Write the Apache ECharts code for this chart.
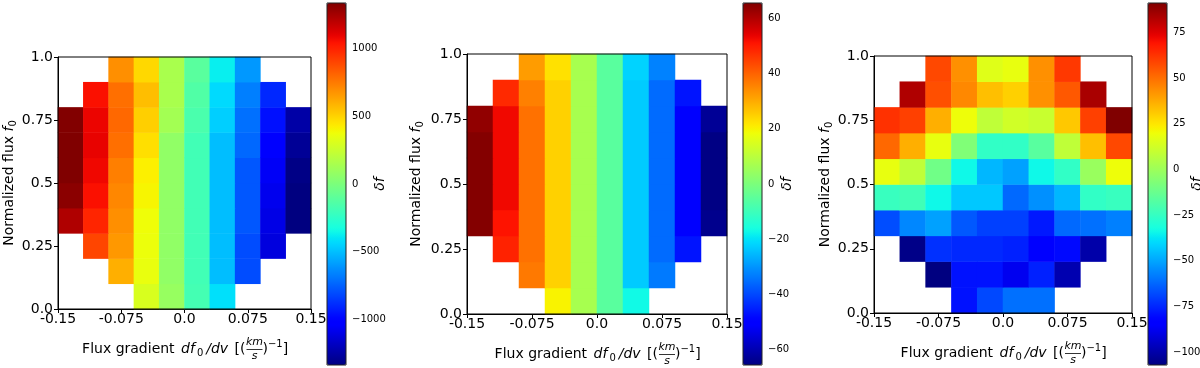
<!DOCTYPE html>
<html>
<head>
<meta charset="utf-8">
<script src="https://cdn.jsdelivr.net/npm/echarts@6/dist/echarts.min.js"></script>
<style>
html,body{margin:0;padding:0;background:#fff;}
#chart{width:1200px;height:368px;}
</style>
</head>
<body>
<div id="chart"></div>
<script>
// ---- data ----
const xCenters = ['-0.135','-0.105','-0.075','-0.045','-0.015','0.015','0.045','0.075','0.105','0.135'];
const yCenters = ['0.05','0.15','0.25','0.35','0.45','0.55','0.65','0.75','0.85','0.95'];
const xTickLabels = ['-0.15','-0.075','0.0','0.075','0.15'];
const yTickLabels = ['0.0','0.25','0.5','0.75','1.0'];
const N = null;
// rows: index 0 = f0 in [0.0,0.1) (bottom) ... index 9 = [0.9,1.0] (top)
const panel1Values = [
  [N, N, N, 301, 90, -180, -415, N, N, N],
  [N, N, 600, 354, 70, -190, -502, -804, N, N],
  [N, 900, 665, 365, 70, -190, -502, -804, -1117, N],
  [1227, 990, 690, 375, 70, -190, -502, -774, -1099, -1340],
  [1310, 1050, 713, 402, 70, -190, -502, -774, -1080, -1340],
  [1340, 1075, 737, 418, 70, -190, -502, -774, -1060, -1320],
  [1340, 1095, 780, 464, 70, -190, -502, -730, -1030, -1284],
  [1330, 1085, 800, 509, 130, -160, -458, -710, -962, -1246],
  [N, 1050, 780, 556, 150, -140, -429, -670, -900, N],
  [N, N, 690, 485, 150, -110, -375, -603, N, N]
];
const panel2Values = [
  [N, N, N, 20, 7, -5.5, -17, N, N, N],
  [N, N, 37, 24.7, 7, -5.5, -23, -33.5, N, N],
  [N, 49, 38, 24.7, 7, -5.5, -23, -35.4, -46.7, N],
  [65, 51, 38, 24.7, 7, -5.5, -23, -35.4, -50, -64],
  [65, 52.6, 38, 24.7, 7, -5.5, -23, -35.4, -50, -65],
  [65, 52.6, 38, 24.7, 7, -5.5, -23, -35.4, -50, -65],
  [65, 52.6, 38, 24.7, 7, -5.5, -23, -35.4, -50, -65],
  [63.6, 52.6, 38, 24.7, 7, -5.5, -23, -35.4, -50, -63],
  [N, 48, 36, 24.7, 7, -5.5, -23, -35.4, -46.7, N],
  [N, N, 32, 22.5, 7, -5.5, -22, -32.5, N, N]
];
const panel3Values = [
  [N, N, N, -79, -68.4, -60.5, -60.5, N, N, N],
  [N, N, -107, -79, -79, -87.8, -76, -98.7, N, N],
  [N, -105.6, -73, -74.5, -74.5, -76, -84, -80.7, -100, N],
  [-67.4, -55.9, -51, -65.2, -69.9, -69.9, -77.6, -62, -60.5, -57.5],
  [-24.2, -22.4, -34, -43.4, -43.4, -62, -54.3, -46.6, -26, -24.2],
  [18, 8.3, -10.8, -34, -46.6, -51, -34, -26, -1, 19.7],
  [51.4, 36.4, 18, -7, -26, -26, -16.5, 8.3, 33, 58],
  [63, 59.8, 36.4, 19.7, 8.3, 12.4, 10.4, 31.2, 59.8, 91],
  [N, 83, 56.5, 44.6, 33, 29.6, 43, 54.8, 84, N],
  [N, N, 58, 43, 16, 18, 43, 61.5, N, N]
];
const cb1Range = [-1335, 1335];
const cb2Range = [-65.5, 65.5];
const cb3Range = [-107, 91];
const cb1Ticks = [-1000, -500, 0, 500, 1000];
const cb2Ticks = [-60, -40, -20, 0, 20, 40, 60];
const cb3Ticks = [-100, -75, -50, -25, 0, 25, 50, 75];

// ---- jet colormap (matplotlib segment data) ----
const jetSeg = {
  r: [[0,0],[0.35,0],[0.66,1],[0.89,1],[1,0.5]],
  g: [[0,0],[0.125,0],[0.375,1],[0.64,1],[0.91,0],[1,0]],
  b: [[0,0.5],[0.11,1],[0.34,1],[0.65,0],[1,0]]
};
function segInterp(seg, t) {
  for (let i = 0; i < seg.length - 1; i++) {
    const a = seg[i], b = seg[i+1];
    if (t <= b[0]) { const f = (t - a[0]) / (b[0] - a[0]); return a[1] + f * (b[1] - a[1]); }
  }
  return seg[seg.length-1][1];
}
const jetColors = [];
for (let i = 0; i <= 128; i++) {
  const t = i / 128;
  const c = ['r','g','b'].map(k => Math.round(255 * segInterp(jetSeg[k], t)));
  jetColors.push('rgb(' + c.join(',') + ')');
}

// ---- layout ----
const FF = 'DejaVu Sans';
const layout = [
  { grid: {left: 58, top: 57, width: 253, height: 252}, cb: {left: 327, top: 3, width: 19, height: 362}, yNameGap: 40, cbNameGap: 27 },
  { grid: {left: 467, top: 54, width: 260, height: 260}, cb: {left: 743, top: 3, width: 19, height: 362}, yNameGap: 42, cbNameGap: 18 },
  { grid: {left: 874, top: 56, width: 258, height: 257}, cb: {left: 1148, top: 3, width: 19, height: 362}, yNameGap: 40, cbNameGap: 23 }
];
const panelValues = [panel1Values, panel2Values, panel3Values];
const cbRanges = [cb1Range, cb2Range, cb3Range];
const cbTicks = [cb1Ticks, cb2Ticks, cb3Ticks];

const grids = [], xAxes = [], yAxes = [], series = [], visualMaps = [], graphics = [];
const black = '#000';

layout.forEach((L, k) => {
  grids.push(Object.assign({show: true, borderColor: black, borderWidth: 1, backgroundColor: 'transparent', z: 3, containLabel: false, outerBoundsMode: 'none'}, L.grid));
  const gi = grids.length - 1;
  grids.push(Object.assign({show: true, borderColor: '#222', borderWidth: 1, backgroundColor: 'transparent', z: 10, containLabel: false, outerBoundsMode: 'none'}, L.cb));
  const cgi = grids.length - 1;

  // value axes for ticks (bottom / left)
  xAxes.push({
    type: 'value', gridIndex: gi, position: 'bottom', min: -0.15, max: 0.15, interval: 0.075,
    axisLine: {show: true, onZero: false, lineStyle: {color: black, width: 1}},
    axisTick: {show: true, length: 4, lineStyle: {color: black}},
    axisLabel: {fontSize: 14, fontFamily: FF, color: black, margin: 3,
      formatter: v => { const i = Math.round((v + 0.15) / 0.075); return xTickLabels[i] ?? ''; }},
    splitLine: {show: false}
  });
  yAxes.push({
    type: 'value', gridIndex: gi, position: 'left', min: 0, max: 1, interval: 0.25,
    axisLine: {show: true, onZero: false, lineStyle: {color: black, width: 1}},
    axisTick: {show: true, length: 4, lineStyle: {color: black}},
    axisLabel: {fontSize: 14, fontFamily: FF, color: black, margin: 5,
      formatter: v => { const i = Math.round(v / 0.25); return yTickLabels[i] ?? ''; }},
    splitLine: {show: false},
    name: 'Normalized flux {i|f}{s|0}', nameLocation: 'middle', nameGap: L.yNameGap, nameRotate: 90,
    nameTextStyle: {fontSize: 14, fontFamily: FF, color: black,
      rich: {i: {fontSize: 14, fontFamily: FF, fontStyle: 'italic', color: black},
             s: {fontSize: 10, fontFamily: FF, color: black, padding: [8, 0, 0, 0]}}}
  });
  // hidden category axes for cells (top / right)
  xAxes.push({type: 'category', gridIndex: gi, position: 'top', data: xCenters, show: false});
  const xCat = xAxes.length - 1;
  yAxes.push({type: 'category', gridIndex: gi, position: 'right', data: yCenters, show: false});
  const yCat = yAxes.length - 1;

  // colorbar axes
  xAxes.push({type: 'value', gridIndex: cgi, show: false, min: 0, max: 1});
  const rng = cbRanges[k];
  yAxes.push({
    type: 'value', gridIndex: cgi, position: 'right', min: rng[0], max: rng[1],
    axisLine: {show: false},
    axisTick: {show: true, length: 3, customValues: cbTicks[k], lineStyle: {color: black}},
    axisLabel: {show: true, customValues: cbTicks[k], fontSize: 10, fontFamily: FF, color: black, margin: 6,
      hideOverlap: false, formatter: v => String(v).replace('-', '\u2212')},
    splitLine: {show: false},
    name: 'δf', nameLocation: 'middle', nameGap: L.cbNameGap, nameRotate: 90, nameMoveOverlap: false,
    nameTextStyle: {fontSize: 14, fontFamily: FF, fontStyle: 'italic', color: black}
  });

  const data = [];
  panelValues[k].forEach((row, r) => row.forEach((v, c) => { if (v !== null) data.push([c, r, v]); }));
  series.push({
    type: 'heatmap', xAxisIndex: xCat, yAxisIndex: yCat, data: data,
    itemStyle: {borderWidth: 0}, emphasis: {disabled: true}, progressive: 0, z: 2
  });

  visualMaps.push({
    type: 'continuous', seriesIndex: k, dimension: 2, min: rng[0], max: rng[1],
    calculable: false, hoverLink: false, realtime: false,
    left: L.cb.left, top: L.cb.top, itemWidth: L.cb.width, itemHeight: L.cb.height,
    padding: 0, text: null, showLabel: false,
    inRange: {color: jetColors}, outOfRange: {color: jetColors[0]}
  });

  const cx = L.grid.left + L.grid.width / 2;
  const ty = L.grid.top + L.grid.height + 40;
  graphics.push({
    type: 'group', x: cx - 9, y: ty, silent: true, children: [
      {type: 'text', x: 70, y: 0, style: {
        text: 'Flux gradient {m|df}{s|0}{m|/dv} [(',
        fontSize: 14, fontFamily: FF, fill: black, align: 'right', verticalAlign: 'middle',
        rich: {m: {fontSize: 14, fontFamily: FF, fontStyle: 'italic', fill: black, padding: [0, 2, 0, 2]},
               s: {fontSize: 10, fontFamily: FF, fill: black, padding: [8, 1, 0, 0]}}}},
      {type: 'text', x: 79, y: -7, style: {text: 'km', fontSize: 11, fontFamily: FF, fontStyle: 'italic', fill: black, align: 'center', verticalAlign: 'middle'}},
      {type: 'line', shape: {x1: 71, y1: 0.5, x2: 87, y2: 0.5}, style: {stroke: black, lineWidth: 0.8}},
      {type: 'text', x: 79, y: 7, style: {text: 's', fontSize: 11, fontFamily: FF, fontStyle: 'italic', fill: black, align: 'center', verticalAlign: 'middle'}},
      {type: 'text', x: 87, y: 0, style: {
        text: '){p|\u22121}]', fontSize: 14, fontFamily: FF, fill: black, align: 'left', verticalAlign: 'middle',
        rich: {p: {fontSize: 10, fontFamily: FF, fill: black, padding: [0, 0, 9, 0]}}}}
    ]
  });
});

const chart = echarts.init(document.getElementById('chart'), null, {renderer: 'canvas'});
chart.setOption({
  animation: false,
  backgroundColor: '#fff',
  grid: grids,
  xAxis: xAxes,
  yAxis: yAxes,
  visualMap: visualMaps,
  series: series,
  graphic: graphics
});
</script>
</body>
</html>
